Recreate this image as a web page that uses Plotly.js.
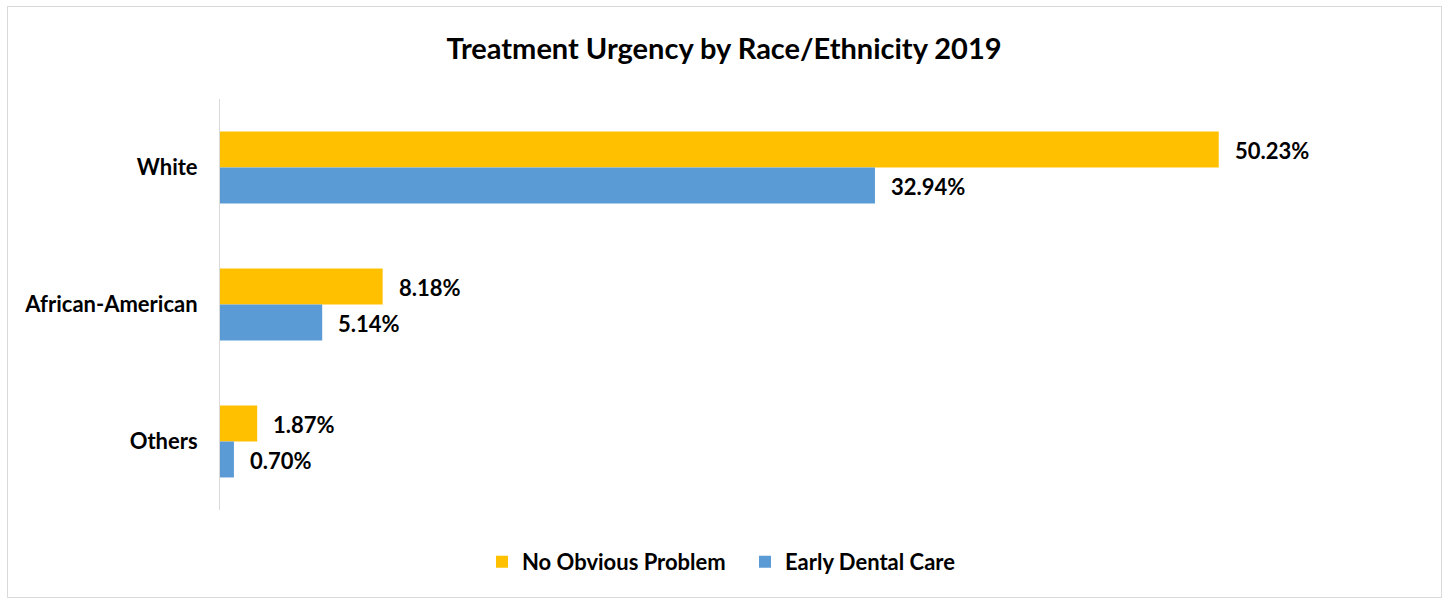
<!DOCTYPE html>
<html>
<head>
<meta charset="utf-8">
<script src="https://cdn.plot.ly/plotly-3.0.1.min.js"></script>
<style>
html,body{margin:0;padding:0;background:#fff;}
#wrap{position:relative;width:1448px;height:599px;}
#chart{width:1448px;height:599px;}
#frame{position:absolute;left:7px;top:6px;width:1433px;height:590px;border:1px solid #d9d9d9;pointer-events:none;}
</style>
</head>
<body>
<div id="wrap"><div id="chart"></div><div id="frame"></div></div>
<script>
const categories = ["White", "African-American", "Others"];
const noObviousProblem = [50.23, 8.18, 1.87];
const earlyDentalCare = [32.94, 5.14, 0.70];
const seriesNames = ["No Obvious Problem", "Early Dental Care"];
const seriesColors = ["#FFC000", "#5B9BD5"];

const FONT = "Lato, 'Open Sans', sans-serif";
const traces = [
  {type:"bar", orientation:"h", name:seriesNames[0], y:categories, x:noObviousProblem,
   marker:{color:seriesColors[0]}, offsetgroup:"a", hoverinfo:"skip"},
  {type:"bar", orientation:"h", name:seriesNames[1], y:categories, x:earlyDentalCare,
   marker:{color:seriesColors[1]}, offsetgroup:"b", hoverinfo:"skip"}
];

const annotations = [];
[noObviousProblem, earlyDentalCare].forEach((vals, si) => {
  vals.forEach((v, i) => {
    annotations.push({
      x: v, y: categories[i], xref:"x", yref:"y",
      text: v.toFixed(2) + "%", showarrow:false, xanchor:"left",
      xshift: 14, yshift: si === 0 ? 17 : -19,
      font:{family:FONT, size:22, color:"#000", weight:"bold"}
    });
  });
});

const layout = {
  width:1448, height:599,
  margin:{l:220, r:35, t:99, b:89},
  paper_bgcolor:"#fff", plot_bgcolor:"#fff",
  title:{text:"<b>Treatment Urgency by Race/Ethnicity 2019</b>", x:0.5, xref:"container",
         y:0.918, yref:"container", yanchor:"middle",
         font:{family:FONT, size:29, color:"#000"}},
  barmode:"group",
  bargap:0.475, bargroupgap:0,
  xaxis:{range:[0,60], showgrid:false, zeroline:false, showticklabels:false, ticks:"", showline:false, fixedrange:true},
  yaxis:{autorange:"reversed", showgrid:false, zeroline:false, showline:true, linecolor:"#d9d9d9", linewidth:1,
         ticks:"", ticklabelstandoff:17,
         tickfont:{family:FONT, size:22, color:"#000", weight:"bold"}},
  showlegend:true,
  legend:{orientation:"h", xref:"container", x:0.5145, xanchor:"center", yref:"container", y:0.062, yanchor:"middle",
          font:{family:FONT, size:22, color:"#000", weight:"bold"}, itemwidth:30, traceorder:"normal",
          entrywidth:218, entrywidthmode:"pixels"},
  annotations: annotations
};

Plotly.newPlot("chart", traces, layout, {displayModeBar:false, staticPlot:true});
</script>
</body>
</html>
